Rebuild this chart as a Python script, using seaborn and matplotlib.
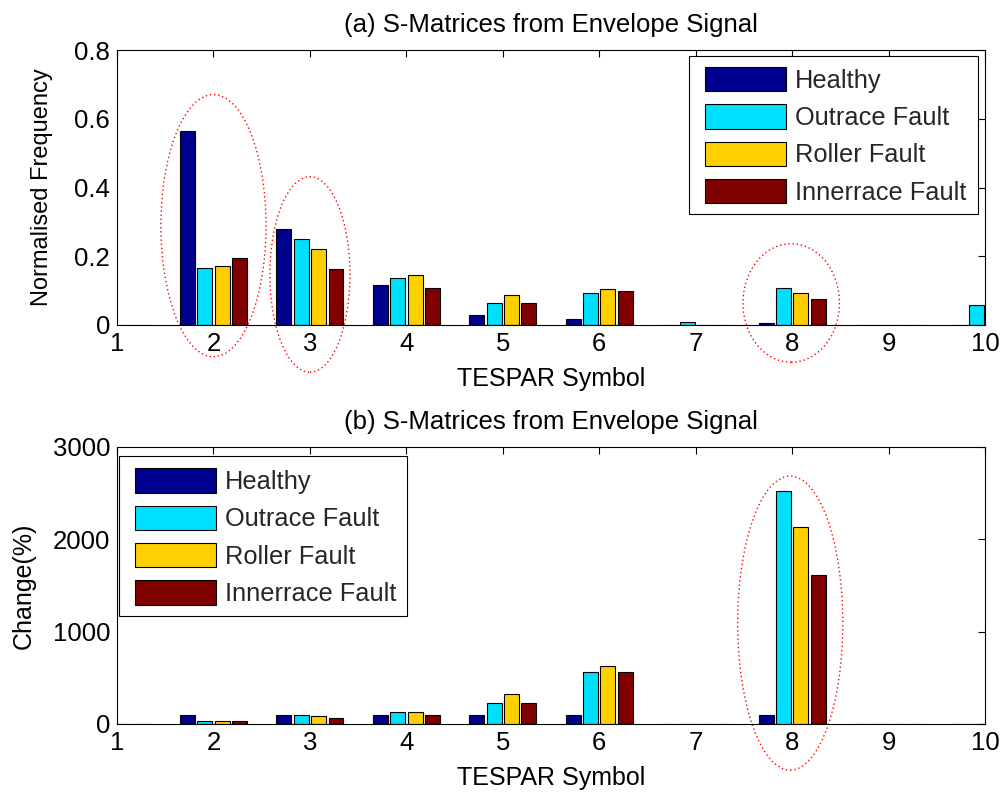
import pandas as pd
import matplotlib
matplotlib.use('Agg')
import matplotlib.pyplot as plt
import seaborn as sns
import numpy as np
import matplotlib.ticker as mtick
from matplotlib.patches import Ellipse, Patch, Rectangle

# dados
simbolos = [1, 2, 3, 4, 5, 6, 7, 8, 9, 10]
series = ['Healthy', 'Outrace Fault', 'Roller Fault', 'Innerrace Fault']

freq_healthy = [0, 0.563, 0.279, 0.116, 0.029, 0.017, 0, 0.006, 0, 0]
freq_outrace = [0, 0.167, 0.249, 0.138, 0.064, 0.094, 0.008, 0.109, 0, 0.058]
freq_roller = [0, 0.172, 0.220, 0.145, 0.087, 0.104, 0, 0.093, 0, 0.058]
freq_inner = [0, 0.196, 0.163, 0.109, 0.064, 0.098, 0, 0.075, 0, 0.050]

change_healthy = [0, 100, 100, 100, 100, 100, 0, 100, 0, 0]
change_outrace = [0, 33, 100, 128, 232, 558, 0, 2522, 0, 0]
change_roller = [0, 33, 87, 128, 322, 623, 0, 2130, 0, 0]
change_inner = [0, 35, 65, 100, 232, 558, 0, 1609, 0, 0]

titulos = ['(a) S-Matrices from Envelope Signal', '(b) S-Matrices from Envelope Signal']

# cores estilo matlab jet
cores = {'Healthy': '#00008F', 'Outrace Fault': '#00DFFF',
         'Roller Fault': '#FFCF00', 'Innerrace Fault': '#800000'}


def monta_df(listas):
    linhas = []
    for nome, vals in zip(series, listas):
        for s, v in zip(simbolos, vals):
            linhas.append({'symbol': s, 'value': v, 'series': nome})
    return pd.DataFrame(linhas)


df_freq = monta_df([freq_healthy, freq_outrace, freq_roller, freq_inner])
df_change = monta_df([change_healthy, change_outrace, change_roller, change_inner])

sns.set_theme(style="white")
plt.rcParams['font.family'] = ['Liberation Sans', 'DejaVu Sans']

fig = plt.figure(figsize=(10.02, 7.94), dpi=100)
ax1 = fig.add_axes([0.1168, 0.5907, 0.8663, 0.3463])
ax2 = fig.add_axes([0.1168, 0.0882, 0.8663, 0.3489])

tam_tick = 18.5
tam_label = 18
tam_titulo = 18.5
tam_leg = 18.3


def desenha(ax, df):
    sns.barplot(data=df, x='symbol', y='value', hue='series', hue_order=series,
                palette=cores, native_scale=True, width=0.72, gap=0.14,
                edgecolor='black', linewidth=0.8, saturation=1, errorbar=None,
                ax=ax, legend=False)
    ax.set_xlim(1, 10)
    ax.set_xticks(simbolos)
    ax.tick_params(direction='in', top=True, right=True, length=5, width=0.8,
                   labelsize=tam_tick, colors='black', pad=5)
    for sp in ax.spines.values():
        sp.set_color('black')
        sp.set_linewidth(0.8)
    ax.set_xlabel('TESPAR Symbol', fontsize=tam_label, color='black', labelpad=8)


def legenda(ax, caixa, ancora):
    # caixa da legenda desenhada a parte (padding horizontal maior que vertical)
    x0, y0, x1, y1 = caixa
    ax.add_patch(Rectangle((x0, y0), x1 - x0, y1 - y0, transform=ax.transAxes,
                           facecolor='white', edgecolor='black', linewidth=0.8,
                           zorder=4.5, clip_on=False))
    handles = [Patch(facecolor=cores[s], edgecolor='black', linewidth=0.8) for s in series]
    leg = ax.legend(handles, series, fontsize=tam_leg, frameon=False,
                    handlelength=3.2, handleheight=1.1,
                    labelspacing=0.45, handletextpad=0.35, borderpad=0,
                    borderaxespad=0, loc='upper left', bbox_to_anchor=ancora)
    leg.set_zorder(5)


desenha(ax1, df_freq)
ax1.set_ylim(0, 0.8)
ax1.set_yticks([0, 0.2, 0.4, 0.6, 0.8])
ax1.yaxis.set_major_formatter(mtick.FormatStrFormatter('%g'))
ax1.set_ylabel('Normalised Frequency', fontsize=17, color='black', labelpad=15)
ax1.set_title(titulos[0], fontsize=tam_titulo, color='black', pad=13)
legenda(ax1, (0.659, 0.404, 0.992, 0.978), (0.6774, 0.938))

desenha(ax2, df_change)
ax2.set_ylim(0, 3000)
ax2.set_yticks([0, 1000, 2000, 3000])
ax2.set_ylabel('Change(%)', fontsize=tam_label, color='black', labelpad=12)
ax2.set_title(titulos[1], fontsize=tam_titulo, color='black', pad=13)
legenda(ax2, (0.0023, 0.390, 0.334, 0.9675), (0.0207, 0.923))

# elipses vermelhas pontilhadas
elipses_top = [(2.0, 0.289, 1.09, 0.763), (3.0, 0.147, 0.83, 0.569), (7.99, 0.064, 1.0, 0.345)]
for cx, cy, w, h in elipses_top:
    ax1.add_patch(Ellipse((cx, cy), w, h, fill=False, edgecolor='red',
                          linestyle=(0, (1, 2)), linewidth=1, clip_on=False))
ax2.add_patch(Ellipse((7.98, 1092), 1.09, 3185, fill=False, edgecolor='red',
                      linestyle=(0, (1, 2)), linewidth=1, clip_on=False))

fig.savefig('out.png', dpi=100, facecolor='white')
